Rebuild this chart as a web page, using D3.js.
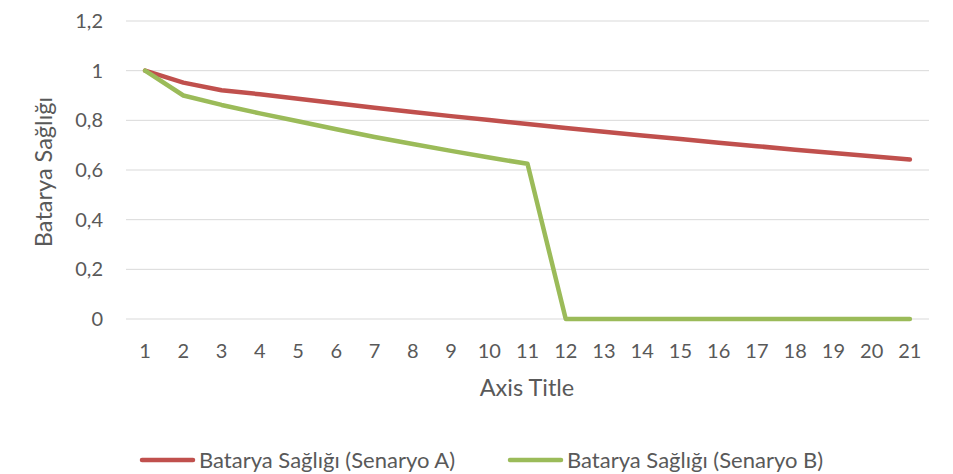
<!DOCTYPE html>
<html><head><meta charset="utf-8">
<script src="https://cdn.jsdelivr.net/npm/d3@7"></script>
<style>body{margin:0;background:#fff;} text{font-family:Lato,"Open Sans",sans-serif;fill:#595959;}</style>
</head><body><svg id="c" width="953" height="474"></svg>
<script>
const categories = ["1","2","3","4","5","6","7","8","9","10","11","12","13","14","15","16","17","18","19","20","21"];
const seriesA = [1.0,0.952,0.921,0.905,0.887,0.869,0.851,0.834,0.817,0.801,0.785,0.769,0.754,0.739,0.725,0.710,0.696,0.682,0.668,0.655,0.642];
const seriesB = [1.0,0.90,0.862,0.828,0.796,0.764,0.733,0.705,0.677,0.65,0.625,0,0,0,0,0,0,0,0,0,0];
const yTicks = [0,0.2,0.4,0.6,0.8,1,1.2];
const seriesNames = ["Batarya Sağlığı (Senaryo A)","Batarya Sağlığı (Senaryo B)"];
const colors = ["#c0504d","#9bbb59"];

const svg = d3.select("#c");
const x = d3.scaleBand().domain(categories).range([126,929]);
const y = d3.scaleLinear().domain([0,1.2]).range([319,21]);
const fmt = d => String(d).replace(".",",");

svg.append("g").selectAll("line").data(yTicks).join("line")
  .attr("x1",126).attr("x2",929).attr("y1",d=>y(d)).attr("y2",d=>y(d))
  .attr("stroke","#d9d9d9").attr("stroke-width",1);

svg.append("g").selectAll("text").data(yTicks).join("text")
  .attr("x",103).attr("y",d=>y(d)).attr("dy","0.35em").attr("text-anchor","end")
  .style("font-size","20px").text(fmt);

svg.append("g").selectAll("text").data(categories).join("text")
  .attr("x",d=>x(d)+x.bandwidth()/2).attr("y",351).attr("dy","0.35em").attr("text-anchor","middle")
  .style("font-size","20px").text(d=>d);

svg.append("text").attr("x",527).attr("y",388).attr("dy","0.35em").attr("text-anchor","middle")
  .style("font-size","23.5px").text("Axis Title");
svg.append("text").attr("transform","translate(44,172) rotate(-90)").attr("dy","0.35em").attr("text-anchor","middle")
  .style("font-size","23.5px").text("Batarya Sağlığı");

const line = d3.line().x((d,i)=>x(categories[i])+x.bandwidth()/2).y(d=>y(d));
[seriesA,seriesB].forEach((s,i)=>{
  svg.append("path").datum(s).attr("d",line).attr("fill","none")
    .attr("stroke",colors[i]).attr("stroke-width",4.5).attr("stroke-linejoin","round").attr("stroke-linecap","round");
});

const lg = [{x:140},{x:508}];
seriesNames.forEach((n,i)=>{
  svg.append("line").attr("x1",lg[i].x+2).attr("x2",lg[i].x+53).attr("y1",460).attr("y2",460)
    .attr("stroke",colors[i]).attr("stroke-width",4.5).attr("stroke-linecap","round");
  svg.append("text").attr("x",lg[i].x+59).attr("y",460).attr("dy","0.35em").style("font-size","22px").text(n);
});
</script></body></html>
